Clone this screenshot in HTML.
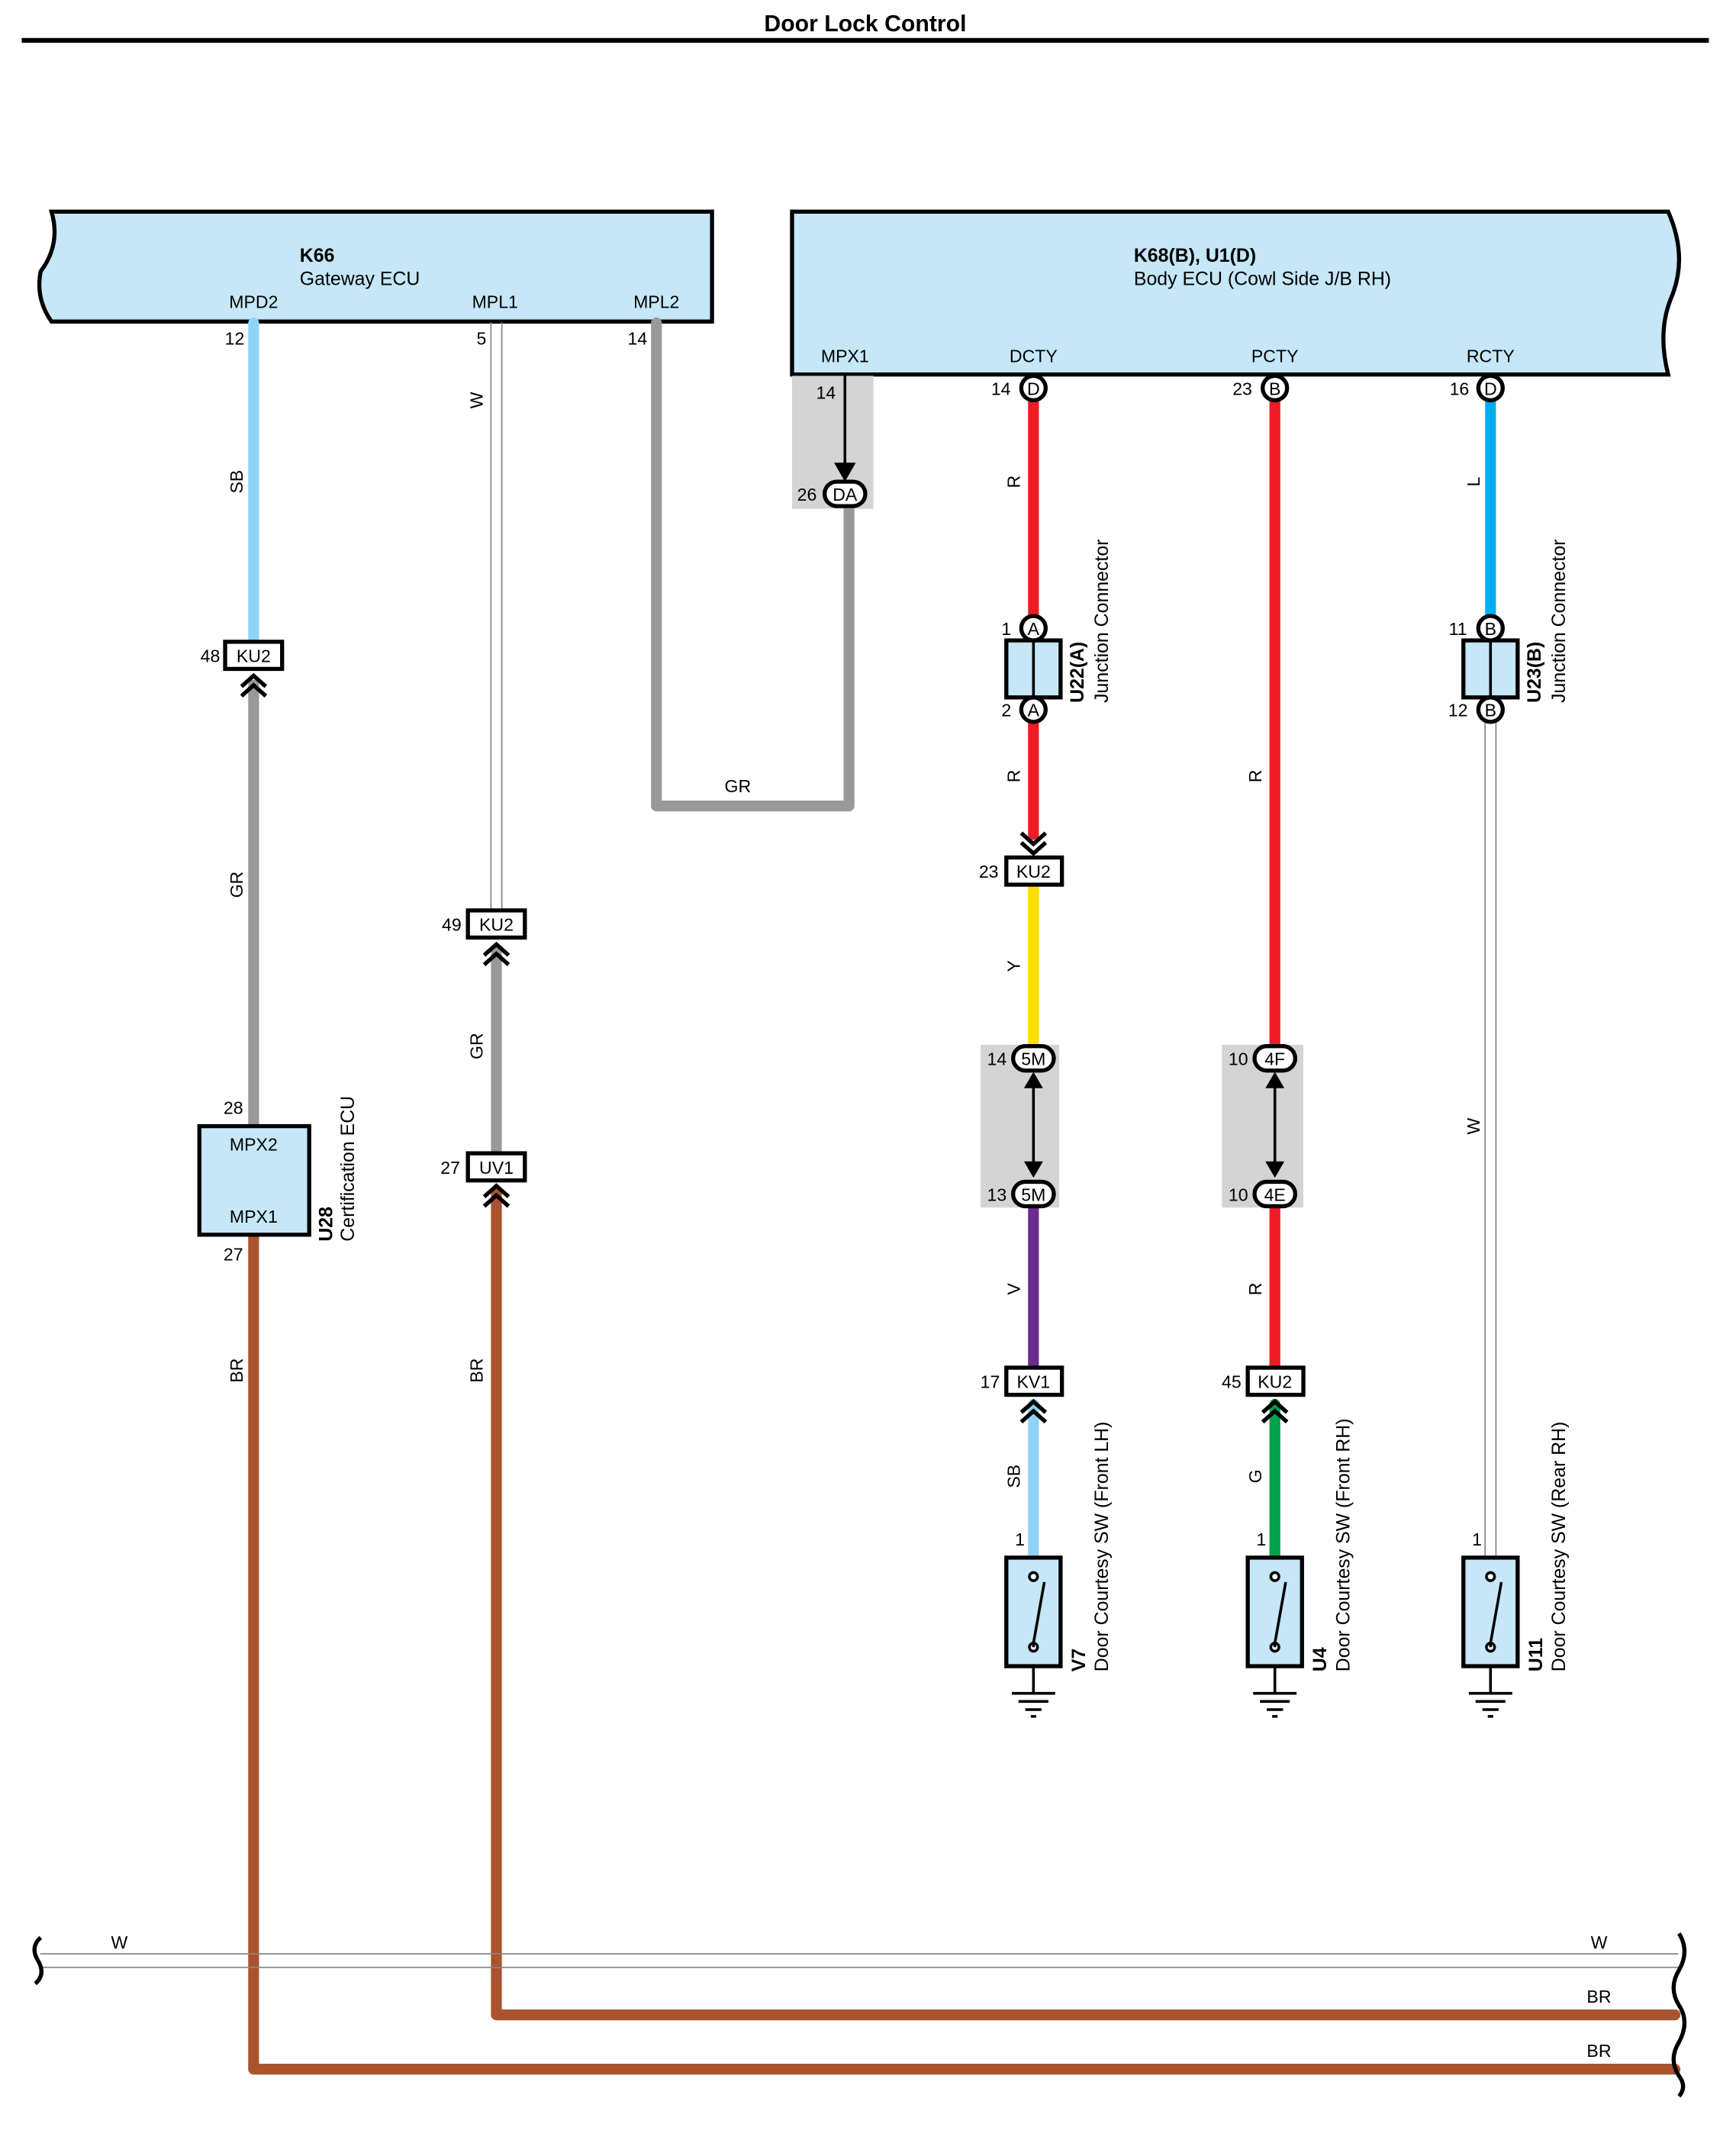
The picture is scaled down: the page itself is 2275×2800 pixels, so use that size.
<!DOCTYPE html>
<html><head><meta charset="utf-8"><style>html,body{margin:0;padding:0;background:#fff}svg{display:block}</style></head>
<body>
<svg width="2275" height="2800" viewBox="0 0 1280 1575" preserveAspectRatio="none" xmlns="http://www.w3.org/2000/svg" font-family="Liberation Sans, sans-serif" font-size="13">
<defs>
<g id="chev"><path d="M-9,8 L0,0 L9,8 M-9,15 L0,7 L9,15" fill="none" stroke="#000" stroke-width="3"/></g>
<g id="chevd"><path d="M-9,-8 L0,0 L9,-8 M-9,-15 L0,-7 L9,-15" fill="none" stroke="#000" stroke-width="3"/></g>
<g id="sw"><rect x="-20" y="0" width="40" height="80" fill="#c5e7f7" stroke="#000" stroke-width="3"/><circle cx="0" cy="14" r="3" fill="#fff" stroke="#000" stroke-width="2"/><circle cx="0" cy="66" r="3" fill="#fff" stroke="#000" stroke-width="2"/><path d="M0,66 L0,63 L8,18" stroke="#000" stroke-width="2" fill="none"/><path d="M0,80 L0,100 M-16,100 H16 M-11,106 H11 M-6,112 H6 M-2,117 H2" stroke="#000" stroke-width="2" fill="none"/></g>
</defs>
<text x="638" y="23" text-anchor="middle" font-weight="bold" font-size="17">Door Lock Control</text>
<rect x="16" y="28" width="1244" height="3.5" fill="#000"/>

<!-- K66 -->
<path d="M38,156 H525 V237 H38 Q26,220 30,200 Q45,180 38,156 Z" fill="#c5e7f7" stroke="#000" stroke-width="3"/>
<text x="221" y="193" font-weight="bold" font-size="14">K66</text>
<text x="221" y="210" font-size="14">Gateway ECU</text>
<text x="187" y="227" text-anchor="middle">MPD2</text>
<text x="365" y="227" text-anchor="middle">MPL1</text>
<text x="484" y="227" text-anchor="middle">MPL2</text>
<!-- K68 -->
<path d="M584,156 H1230 Q1245,190 1232,220 Q1222,245 1230,276 H584 Z" fill="#c5e7f7" stroke="#000" stroke-width="3"/>
<text x="836" y="193" font-weight="bold" font-size="14">K68(B), U1(D)</text>
<text x="836" y="210" font-size="14">Body ECU (Cowl Side J/B RH)</text>
<text x="623" y="267" text-anchor="middle">MPX1</text>
<text x="762" y="267" text-anchor="middle">DCTY</text>
<text x="940" y="267" text-anchor="middle">PCTY</text>
<text x="1099" y="267" text-anchor="middle">RCTY</text>

<!-- gray shaded areas -->
<rect x="584" y="277" width="60" height="98" fill="#d4d4d4"/>
<rect x="723" y="770" width="58" height="120" fill="#d4d4d4"/>
<rect x="901" y="770" width="60" height="120" fill="#d4d4d4"/>

<!-- wires -->
<g fill="none" stroke-linecap="round" stroke-linejoin="round">
<path d="M187,238 V474" stroke="#8fd3f5" stroke-width="8"/>
<path d="M187,505 V830" stroke="#999" stroke-width="8"/>
<path d="M187,911 V1525 H1235" stroke="#a9532f" stroke-width="8"/>
<path d="M362,238 V672 M370,238 V672" stroke="#888" stroke-width="1"/>
<path d="M366,700 V850" stroke="#999" stroke-width="8"/>
<path d="M366,880 V1485 H1235" stroke="#a9532f" stroke-width="8"/>
<path d="M484,238 V594 H626 V375" stroke="#999" stroke-width="8"/>
<path d="M762,296 V454 M762,532 V615" stroke="#ee1c25" stroke-width="8"/>
<path d="M762,652 V770" stroke="#ffdd00" stroke-width="8"/>
<path d="M762,890 V1008" stroke="#6c2c8e" stroke-width="8"/>
<path d="M762,1035 V1148" stroke="#8fd3f5" stroke-width="8"/>
<path d="M940,296 V770 M940,890 V1008" stroke="#ee1c25" stroke-width="8"/>
<path d="M940,1035 V1148" stroke="#00a14b" stroke-width="8"/>
<path d="M1099,296 V454" stroke="#00aeef" stroke-width="8"/>
<path d="M1095,532 V1148 M1103,532 V1148" stroke="#888" stroke-width="1"/>
<path d="M30,1440 H1237 M30,1450 H1237" stroke="#888" stroke-width="1"/>
</g>
<!-- MPX1 arrow -->
<path d="M623,277 V348" stroke="#000" stroke-width="2"/>
<path d="M615,341 L623,355 L631,341 Z" fill="#000"/>
<!-- left/right wavy edges -->
<path d="M30,1428 Q22,1435 28,1445 Q34,1455 26,1462" fill="none" stroke="#000" stroke-width="3"/>
<path d="M1238,1425 Q1246,1438 1238,1452 Q1230,1465 1238,1478 Q1246,1490 1238,1505 Q1230,1518 1238,1530 Q1244,1538 1238,1545" fill="none" stroke="#000" stroke-width="3"/>

<!-- connectors -->
<g stroke="#000" stroke-width="3" fill="#fff">
<rect x="166" y="473" width="42" height="20"/>
<rect x="345" y="671" width="42" height="20"/>
<rect x="345" y="850" width="42" height="20"/>
<rect x="742" y="632" width="41" height="20"/>
<rect x="742" y="1008" width="41" height="20"/>
<rect x="920" y="1008" width="41" height="20"/>
<rect x="147" y="830" width="81" height="80" fill="#c5e7f7"/>
<rect x="742" y="472" width="40" height="42" fill="#c5e7f7"/>
<rect x="1079" y="472" width="40" height="42" fill="#c5e7f7"/>
<circle cx="762" cy="286" r="9"/><circle cx="940" cy="286" r="9"/><circle cx="1099" cy="286" r="9"/>
<circle cx="762" cy="463" r="9"/><circle cx="762" cy="523" r="9"/>
<circle cx="1099" cy="463" r="9"/><circle cx="1099" cy="523" r="9"/>
<rect x="608" y="355" width="30" height="18" rx="9"/>
<rect x="747" y="771" width="30" height="18" rx="9"/>
<rect x="747" y="871" width="30" height="18" rx="9"/>
<rect x="925" y="771" width="30" height="18" rx="9"/>
<rect x="925" y="871" width="30" height="18" rx="9"/>
</g>
<path d="M762,472 V514 M1099,472 V514" stroke="#000" stroke-width="2"/>
<!-- double arrows in gray boxes -->
<g stroke="#000" stroke-width="2"><path d="M762,795 V862 M940,795 V862"/></g>
<g fill="#000"><path d="M755,802 L762,790 L769,802 Z M755,856 L762,868 L769,856 Z M933,802 L940,790 L947,802 Z M933,856 L940,868 L947,856 Z"/></g>

<use href="#chev" x="187" y="498"/>
<use href="#chev" x="366" y="696"/>
<use href="#chev" x="366" y="874"/>
<use href="#chev" x="762" y="1033"/>
<use href="#chev" x="940" y="1033"/>
<use href="#chevd" x="762" y="629"/>

<use href="#sw" x="762" y="1148"/>
<use href="#sw" x="940" y="1148"/>
<use href="#sw" x="1099" y="1148"/>

<!-- connector texts -->
<g font-size="13" text-anchor="middle">
<text x="187" y="488">KU2</text><text x="366" y="686">KU2</text><text x="366" y="865">UV1</text>
<text x="762" y="647">KU2</text><text x="762" y="1023">KV1</text><text x="940" y="1023">KU2</text>
<text x="762" y="291">D</text><text x="940" y="291">B</text><text x="1099" y="291">D</text>
<text x="762" y="468">A</text><text x="762" y="528">A</text><text x="1099" y="468">B</text><text x="1099" y="528">B</text>
<text x="623" y="369">DA</text><text x="762" y="785">5M</text><text x="762" y="885">5M</text>
<text x="940" y="785">4F</text><text x="940" y="885">4E</text>
<text x="187" y="848">MPX2</text><text x="187" y="901">MPX1</text>
</g>
<!-- pin numbers -->
<g font-size="13" text-anchor="middle">
<text x="173" y="254">12</text><text x="355" y="254">5</text><text x="470" y="254">14</text>
<text x="609" y="294">14</text><text x="595" y="369">26</text>
<text x="738" y="291">14</text><text x="916" y="291">23</text><text x="1076" y="291">16</text>
<text x="155" y="488">48</text><text x="333" y="686">49</text><text x="332" y="865">27</text>
<text x="172" y="821">28</text><text x="172" y="929">27</text>
<text x="742" y="468">1</text><text x="742" y="528">2</text><text x="1075" y="468">11</text><text x="1075" y="528">12</text>
<text x="729" y="647">23</text><text x="735" y="785">14</text><text x="735" y="885">13</text>
<text x="913" y="785">10</text><text x="913" y="885">10</text>
<text x="730" y="1023">17</text><text x="908" y="1023">45</text>
<text x="752" y="1139">1</text><text x="930" y="1139">1</text><text x="1089" y="1139">1</text>
<text x="544" y="584">GR</text>
<text x="88" y="1436">W</text><text x="1179" y="1436">W</text>
<text x="1179" y="1476">BR</text><text x="1179" y="1516">BR</text>
</g>
<!-- rotated wire labels -->
<g font-size="13" text-anchor="middle">
<text transform="translate(179,355) rotate(-90)">SB</text>
<text transform="translate(179,652) rotate(-90)">GR</text>
<text transform="translate(179,1010) rotate(-90)">BR</text>
<text transform="translate(356,295) rotate(-90)">W</text>
<text transform="translate(356,771) rotate(-90)">GR</text>
<text transform="translate(356,1010) rotate(-90)">BR</text>
<text transform="translate(752,355) rotate(-90)">R</text>
<text transform="translate(752,572) rotate(-90)">R</text>
<text transform="translate(752,712) rotate(-90)">Y</text>
<text transform="translate(752,950) rotate(-90)">V</text>
<text transform="translate(752,1088) rotate(-90)">SB</text>
<text transform="translate(930,572) rotate(-90)">R</text>
<text transform="translate(930,950) rotate(-90)">R</text>
<text transform="translate(930,1088) rotate(-90)">G</text>
<text transform="translate(1091,355) rotate(-90)">L</text>
<text transform="translate(1091,830) rotate(-90)">W</text>
</g>
<!-- rotated component labels -->
<g font-size="14">
<text transform="translate(245,915) rotate(-90)" font-weight="bold">U28</text>
<text transform="translate(261,915) rotate(-90)">Certification ECU</text>
<text transform="translate(799,518) rotate(-90)" font-weight="bold">U22(A)</text>
<text transform="translate(817,518) rotate(-90)">Junction Connector</text>
<text transform="translate(1136,518) rotate(-90)" font-weight="bold">U23(B)</text>
<text transform="translate(1154,518) rotate(-90)">Junction Connector</text>
<text transform="translate(800,1232) rotate(-90)" font-weight="bold">V7</text>
<text transform="translate(817,1232) rotate(-90)">Door Courtesy SW (Front LH)</text>
<text transform="translate(978,1232) rotate(-90)" font-weight="bold">U4</text>
<text transform="translate(995,1232) rotate(-90)">Door Courtesy SW (Front RH)</text>
<text transform="translate(1137,1232) rotate(-90)" font-weight="bold">U11</text>
<text transform="translate(1154,1232) rotate(-90)">Door Courtesy SW (Rear RH)</text>
</g>
</svg>
</body></html>
